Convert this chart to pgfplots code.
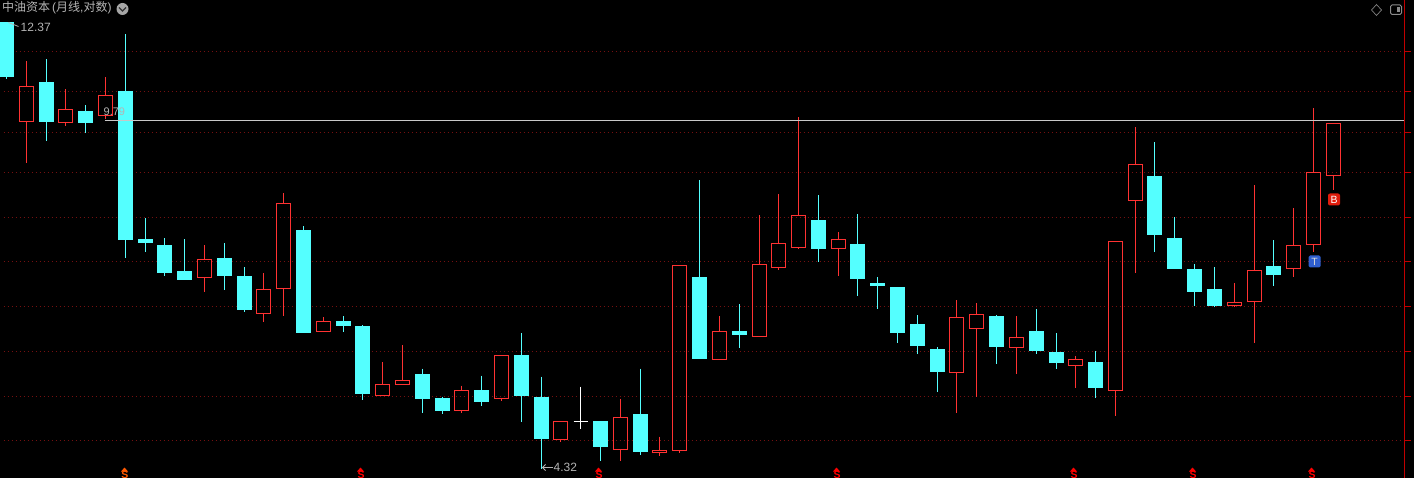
\documentclass[border=0pt]{standalone}
\usepackage{pgfplots}
\pgfplotsset{compat=1.18}
\usepackage{fontspec}
\setmainfont{Liberation Sans}
\newfontfamily\cjk{Noto Sans CJK SC}
\definecolor{cy}{HTML}{54FFFF}
\definecolor{rd}{HTML}{FF3232}
\definecolor{gridc}{HTML}{741010}
\definecolor{axc}{HTML}{C00000}
\definecolor{lab}{HTML}{B4B4B4}
\definecolor{linec}{HTML}{C8C8C8}
\definecolor{bmk}{HTML}{E01C0C}
\definecolor{tmk}{HTML}{2F5FD0}
% candle in picture rows: x, body top, body bottom edge, high, low edge
\newcommand{\up}[5]{%
  \pgfmathsetmacro\xa{#1-7}\pgfmathsetmacro\xb{#1+7}%
  \pgfmathsetmacro\yb{#3-1}\pgfmathsetmacro\yl{#5-1}%
  \addplot[rd,line width=1pt,forget plot] coordinates {(#1,#4)(#1,#2)};
  \addplot[rd,line width=1pt,forget plot] coordinates {(#1,\yb)(#1,\yl)};
  \addplot[rd,line width=1pt,line cap=rect,line join=miter,forget plot] coordinates {(\xa,#2)(\xb,#2)(\xb,\yb)(\xa,\yb)(\xa,#2)};
}
\newcommand{\dn}[5]{%
  \pgfmathsetmacro\xa{#1-7.5}\pgfmathsetmacro\xb{#1+7.5}%
  \pgfmathsetmacro\ya{#2-0.5}\pgfmathsetmacro\yb{#3-0.5}\pgfmathsetmacro\yl{#5-1}%
  \addplot[cy,line width=1pt,forget plot] coordinates {(#1,#4)(#1,\yl)};
  \addplot[draw=none,fill=cy,forget plot] coordinates {(\xa,\ya)(\xb,\ya)(\xb,\yb)(\xa,\yb)} --cycle;
}
\newcommand{\gl}[1]{%
  \addplot[gridc,line width=1pt,dash pattern=on 1pt off 3pt,forget plot] coordinates {(3,#1)(1402,#1)};
  \addplot[axc,line width=1pt,forget plot] coordinates {(1404,#1)(1410,#1)};
}
\newcommand{\mk}[2]{%
  \node[overlay,text=#2,inner sep=0,anchor=base,font=\fontsize{10.5}{10.5}\selectfont\bfseries] at (axis cs:#1+0.5,477.5) {S};
  \fill[#2,overlay] (axis cs:#1-3.5,471) -- (axis cs:#1,467) -- (axis cs:#1+3.5,471) -- cycle;
}
\begin{document}
\begin{tikzpicture}
\begin{axis}[
  scale only axis,width=1414pt,height=478pt,
  xmin=-0.5,xmax=1413.5,ymin=-0.5,ymax=477.5,
  y dir=reverse,axis lines=none,ticks=none,
  axis background/.style={fill=black},
  every axis plot/.append style={mark=none},
  clip=true]
\gl{51}\gl{91}\gl{132}\gl{172}\gl{217}\gl{261}\gl{306}\gl{351}\gl{396}\gl{440}
\addplot[axc,line width=1pt,forget plot] coordinates {(1404,0)(1404,478)};
\dn{6}{22}{77}{22}{80}
\up{26}{86}{122}{61}{164}
\dn{46}{82}{122}{59}{142}
\up{65}{109}{123}{89}{127}
\dn{85}{111}{123}{105}{134}
\up{105}{95}{116}{77}{120}
\dn{125}{91}{240}{34}{259}
\dn{145}{239}{243}{218}{253}
\dn{164}{245}{273}{238}{277}
\dn{184}{271}{280}{239}{281}
\up{204}{259}{278}{245}{293}
\dn{224}{258}{276}{243}{291}
\dn{244}{276}{310}{267}{313}
\up{263}{289}{314}{273}{323}
\up{283}{203}{289}{193}{317}
\dn{303}{230}{333}{226}{333}
\up{323}{321}{332}{317}{333}
\dn{343}{321}{326}{316}{333}
\dn{362}{326}{394}{325}{400}
\up{382}{384}{396}{362}{396}
\up{402}{380}{385}{345}{385}
\dn{422}{374}{399}{368}{413}
\dn{442}{398}{411}{396}{414}
\up{461}{390}{411}{385}{413}
\dn{481}{390}{402}{375}{406}
\up{501}{355}{399}{355}{401}
\dn{521}{355}{396}{333}{422}
\dn{541}{397}{439}{376}{469}
\up{560}{421}{440}{421}{442}
\addplot[white,line width=1pt,forget plot] coordinates {(580,386)(580,428)};
\addplot[white,line width=1pt,forget plot] coordinates {(573,421)(587,421)};
\dn{600}{421}{447}{421}{461}
\up{620}{417}{450}{398}{461}
\dn{640}{414}{452}{368}{455}
\up{659}{450}{453}{436}{456}
\up{679}{265}{451}{265}{453}
\dn{699}{277}{359}{180}{360}
\up{719}{331}{360}{316}{360}
\dn{739}{331}{335}{304}{349}
\up{759}{264}{337}{215}{338}
\up{778}{243}{268}{194}{271}
\up{798}{215}{248}{117}{250}
\dn{818}{220}{249}{195}{263}
\up{838}{239}{249}{232}{277}
\dn{857}{244}{279}{214}{297}
\dn{877}{283}{286}{277}{310}
\dn{897}{287}{333}{287}{344}
\dn{917}{324}{346}{315}{355}
\dn{937}{349}{372}{347}{392}
\up{956}{317}{373}{300}{413}
\up{976}{314}{329}{303}{397}
\dn{996}{316}{347}{315}{365}
\up{1016}{337}{348}{316}{374}
\dn{1036}{331}{351}{309}{355}
\dn{1056}{352}{363}{333}{369}
\up{1075}{359}{366}{356}{388}
\dn{1095}{362}{388}{351}{398}
\up{1115}{241}{391}{241}{416}
\up{1135}{164}{201}{127}{274}
\dn{1154}{176}{235}{142}{253}
\dn{1174}{238}{269}{217}{270}
\dn{1194}{269}{292}{264}{307}
\dn{1214}{289}{306}{267}{308}
\up{1234}{302}{306}{283}{308}
\up{1254}{270}{302}{185}{344}
\dn{1273}{266}{275}{240}{287}
\up{1293}{245}{269}{208}{278}
\up{1313}{172}{245}{108}{253}
\up{1333}{123}{176}{123}{191}
\addplot[linec,line width=1pt,forget plot] coordinates {(104,120)(1403,120)};
% labels
\node[anchor=west,inner sep=0,text=lab,font=\fontsize{12}{12}\selectfont] at (axis cs:1.5,7.5) {{\cjk 中油资本}\,({\cjk 月线},{\cjk 对数})};
\fill[gray!70] (axis cs:122,8.5) circle[radius=6pt];
\draw[black!80,line width=1.2pt] (axis cs:118.5,7) -- (axis cs:122,10.5) -- (axis cs:125.5,7);
\node[anchor=west,inner sep=0,text=lab,font=\fontsize{12}{12}\selectfont] at (axis cs:20,26.5) {12.37};
\draw[lab,line width=0.8pt] (axis cs:8,22) -- (axis cs:18,26);
\node[anchor=west,inner sep=0,text=lab,font=\fontsize{11}{11}\selectfont] at (axis cs:103,111.5) {9.79};
\draw[lab,line width=1pt] (axis cs:542,467) -- (axis cs:552,467);
\draw[lab,line width=1pt] (axis cs:545,464) -- (axis cs:542,467) -- (axis cs:545,470);
\node[anchor=west,inner sep=0,text=lab,font=\fontsize{12}{12}\selectfont] at (axis cs:553,466.5) {4.32};
% trade marks
\fill[bmk,rounded corners=2pt] (axis cs:1327.5,193) rectangle (axis cs:1339.5,205);
\node[inner sep=0,text=white,font=\fontsize{10.5}{10.5}\selectfont] at (axis cs:1333.5,199.5) {B};
\fill[tmk,rounded corners=1.5pt] (axis cs:1308,255) rectangle (axis cs:1320,267);
\node[inner sep=0,text=white!85!black,font=\fontsize{10.5}{10.5}\selectfont] at (axis cs:1314,261.5) {T};
% corner icons
\draw[gray,line width=0.7pt] (axis cs:1376,4) -- (axis cs:1381,9.5) -- (axis cs:1376,15) -- (axis cs:1371,9.5) -- cycle;
\draw[gray!90,line width=1pt,rounded corners=1.5pt] (axis cs:1390,4.5) rectangle (axis cs:1401,14);
\fill[gray!90] (axis cs:1396.5,6.5) rectangle (axis cs:1399.5,12);
% bottom marks
\mk{124}{orange!70!red}\mk{360}{red}\mk{598}{red}\mk{836}{red}\mk{1073}{red}\mk{1192}{red}\mk{1311}{red}
\end{axis}
\end{tikzpicture}
\end{document}
